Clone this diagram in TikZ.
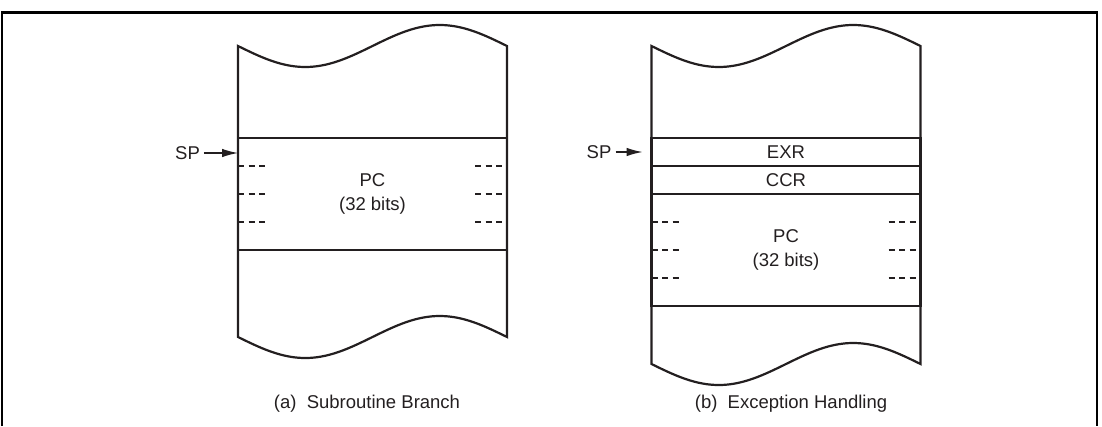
\documentclass[tikz,border=0pt]{standalone}
\usepackage{fontspec}
\setmainfont{Liberation Sans}
\usepackage{tikz}
\usetikzlibrary{arrows.meta,calc,positioning}
\definecolor{ink}{HTML}{231F20}
\tikzset{
    lbl/.style = {text=ink, inner sep=0pt, align=center, font=\fontsize{18.5}{23.5}\selectfont},
    cell/.style = {lbl, rectangle, draw=ink, minimum width=269pt, minimum height=28pt, outer sep=0pt},
    ptr/.style = {-{Latex[length=16pt,width=8.5pt]}, line width=1.2pt, shorten <=3pt},
    gap/.style = {line width=2.9pt, dash pattern=on 6pt off 4.5pt},
    frm/.style = {draw=black, line width=2.5pt}
}

\begin{document}
\begin{tikzpicture}[x=1pt, y=-1pt, color=ink, line width=2.2pt]
    \useasboundingbox (0,0) rectangle (1102,426);
    \draw[frm] (2,426) |- (1097,12.5) -- (1097,426);

    % (a) subroutine branch
    \draw[line join=miter] plot[domain=0:269, samples=80] ({238+\x}, {46+21*sin(360/269*\x)})
        -- plot[domain=269:0, samples=80] ({238+\x}, {337+21*sin(360/269*\x)}) -- cycle;
    \node[cell, minimum height=112pt] (pca) at (372.5,194) {PC\\(32 bits)};
    \node[lbl] (spa) at (187.5,153) {SP};
    \draw[ptr] (spa.east) -- (spa.east -| pca.west);
    \node[lbl] (capa) at (367,404) {(a)~~Subroutine Branch};

    % (b) exception handling
    \draw[line join=miter] plot[domain=0:269, samples=80] ({651.5+\x}, {46+21*sin(360/269*\x)})
        -- plot[domain=269:0, samples=80] ({651.5+\x}, {364+21*sin(360/269*\x)}) -- cycle;
    \node[cell] (exr) at (786,152) {EXR};
    \node[cell, below=0pt of exr] (ccr) {CCR};
    \node[cell, minimum height=112pt, below=0pt of ccr] (pcb) {PC\\(32 bits)};
    \node[lbl, left=39pt of exr] (spb) {SP};
    \draw[ptr, shorten >=9pt] (spb.east) -- (spb.east -| exr.west);
    \node[lbl] (capb) at (791,404) {(b)~~Exception Handling};

    \foreach \s in {pca,pcb}
        \foreach \k in {1,2,3} {
            \draw[gap] ($(\s.north west)+(0,28*\k)$) -- +(28,0);
            \draw[gap] ($(\s.north east)+(-32,28*\k)$) -- +(28,0);
        }
\end{tikzpicture}
\end{document}
